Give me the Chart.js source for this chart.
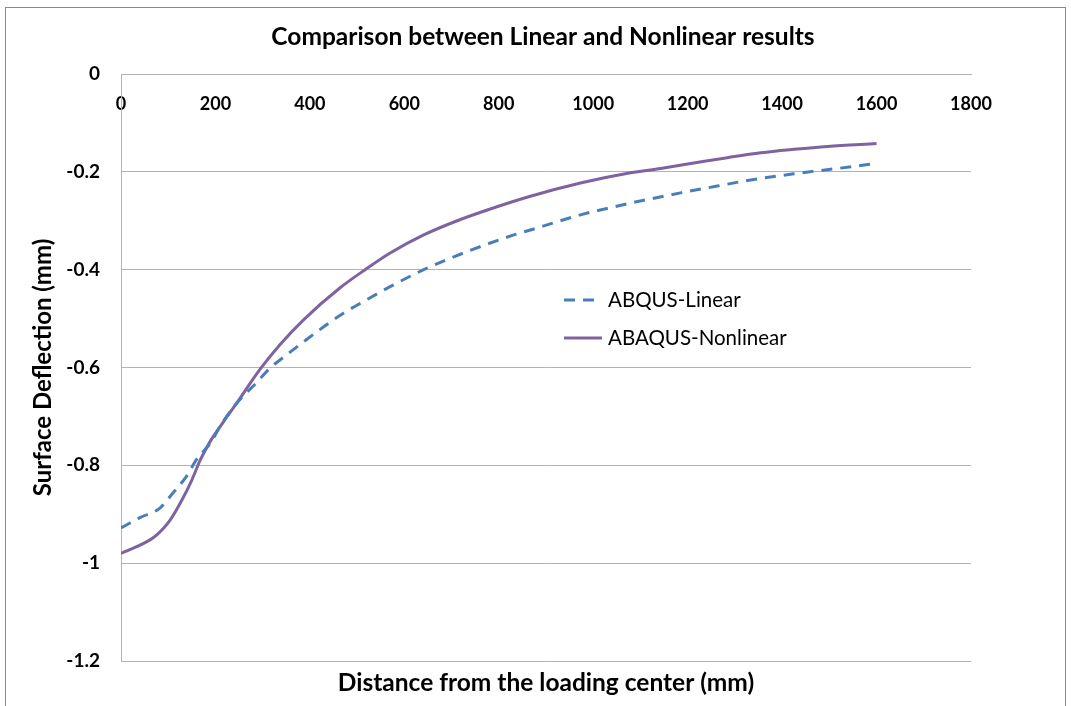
<!DOCTYPE html>
<html>
<head>
<meta charset="utf-8">
<script src="https://cdn.jsdelivr.net/npm/chart.js@4/dist/chart.umd.min.js"></script>
<style>
  html, body { margin: 0; padding: 0; background: #ffffff; }
  #wrap { width: 1071px; height: 706px; position: relative; }
</style>
</head>
<body>
<div id="wrap"><canvas id="c" width="1071" height="706"></canvas></div>
<script>
// ---- Data ----
const chartTitle = 'Comparison between Linear and Nonlinear results';
const xTitle = 'Distance from the loading center (mm)';
const yTitle = 'Surface Deflection (mm)';
const seriesNames = ['ABQUS-Linear', 'ABAQUS-Nonlinear'];

const linearX = [0, 40, 83, 107, 139, 160, 189, 210, 245, 280, 316, 351, 386, 436, 471, 521, 577, 648, 733, 832, 867, 973, 1079, 1185, 1263, 1319, 1425, 1510, 1600];
const linearY = [-0.928, -0.907, -0.887, -0.860, -0.822, -0.788, -0.755, -0.720, -0.673, -0.638, -0.601, -0.574, -0.548, -0.512, -0.489, -0.461, -0.431, -0.397, -0.363, -0.329, -0.319, -0.288, -0.264, -0.243, -0.229, -0.219, -0.204, -0.194, -0.183];

const nonlinearX = [0, 71, 104, 129, 150, 168, 189, 217, 245, 295, 337, 386, 464, 517, 570, 641, 712, 782, 867, 973, 1079, 1143, 1213, 1284, 1355, 1425, 1496, 1600];
const nonlinearY = [-0.980, -0.946, -0.912, -0.871, -0.830, -0.789, -0.751, -0.711, -0.673, -0.603, -0.553, -0.503, -0.437, -0.400, -0.366, -0.329, -0.300, -0.276, -0.250, -0.223, -0.202, -0.193, -0.182, -0.171, -0.161, -0.154, -0.148, -0.142];

const xTicks = [0, 200, 400, 600, 800, 1000, 1200, 1400, 1600, 1800];
const yTicks = [0, -0.2, -0.4, -0.6, -0.8, -1, -1.2];

// ---- Styles ----
const FONT = 'Lato, "Open Sans", "DejaVu Sans", sans-serif';
const colLinear = '#4a7ebb';
const colNonlinear = '#7f63a1';
const gridCol = '#b3b3b3';

const toPts = (xs, ys) => xs.map((x, i) => ({ x: x, y: ys[i] }));

const bgBorder = {
  id: 'bgBorder',
  beforeDraw(chart) {
    const ctx = chart.ctx;
    ctx.save();
    ctx.fillStyle = '#ffffff';
    ctx.fillRect(0, 0, chart.width, chart.height);
    ctx.restore();
  },
  afterDraw(chart) {
    const ctx = chart.ctx;
    ctx.save();
    ctx.strokeStyle = '#8a8a8a';
    ctx.lineWidth = 1;
    ctx.strokeRect(5.5, 7.5, 1060, 720);
    ctx.restore();
  }
};

const inlineLegend = {
  id: 'inlineLegend',
  afterDatasetsDraw(chart) {
    const ctx = chart.ctx;
    const rows = [{ y: 300 }, { y: 338 }];
    ctx.save();
    chart.data.datasets.forEach((ds, i) => {
      const y = rows[i].y;
      ctx.strokeStyle = ds.borderColor;
      ctx.lineWidth = ds.borderWidth;
      ctx.setLineDash(ds.borderDash || []);
      ctx.beginPath();
      ctx.moveTo(564, y);
      ctx.lineTo(602, y);
      ctx.stroke();
      ctx.setLineDash([]);
      ctx.fillStyle = '#000000';
      ctx.font = '20.5px ' + FONT;
      ctx.textBaseline = 'middle';
      ctx.textAlign = 'left';
      ctx.fillText(ds.label, 608, y);
    });
    ctx.restore();
  }
};

new Chart(document.getElementById('c'), {
  type: 'scatter',
  data: {
    datasets: [
      {
        label: seriesNames[0],
        data: toPts(linearX, linearY),
        showLine: true,
        borderColor: colLinear,
        backgroundColor: colLinear,
        borderWidth: 3,
        borderDash: [11, 8],
        pointRadius: 0,
        cubicInterpolationMode: 'monotone',
        fill: false
      },
      {
        label: seriesNames[1],
        data: toPts(nonlinearX, nonlinearY),
        showLine: true,
        borderColor: colNonlinear,
        backgroundColor: colNonlinear,
        borderWidth: 3,
        pointRadius: 0,
        cubicInterpolationMode: 'monotone',
        fill: false
      }
    ]
  },
  options: {
    responsive: false,
    animation: false,
    layout: { padding: { left: 15, right: 0, top: 0, bottom: 0 } },
    plugins: {
      legend: { display: false },
      tooltip: { enabled: false },
      title: {
        display: true,
        text: chartTitle,
        color: '#000000',
        font: { family: FONT, size: 24.5, weight: 'bold', lineHeight: 1.2 },
        padding: { top: 22, bottom: 22.6 }
      }
    },
    scales: {
      x: {
        type: 'linear',
        position: { y: 0 },
        min: 0,
        max: 1800,
        afterBuildTicks(scale) { scale.ticks = xTicks.map(v => ({ value: v })); },
        ticks: {
          color: '#000000',
          font: { family: FONT, size: 18, weight: 'bold' },
          padding: 19,
          maxRotation: 0,
          autoSkip: false,
          callback: (v) => String(v)
        },
        grid: { display: false, drawTicks: false },
        border: { display: true, color: gridCol, width: 1 }
      },
      x2: {
        type: 'linear',
        position: 'bottom',
        min: 0,
        max: 1800,
        ticks: { display: false },
        grid: { display: false, drawTicks: false },
        border: { display: false },
        title: {
          display: true,
          text: xTitle,
          color: '#000000',
          font: { family: FONT, size: 24.5, weight: 'bold', lineHeight: 1.2 },
          padding: { top: 7.3, bottom: 8.3 }
        }
      },
      y: {
        type: 'linear',
        position: 'left',
        min: -1.2,
        max: 0,
        afterBuildTicks(scale) { scale.ticks = yTicks.map(v => ({ value: v })); },
        afterFit(scale) { scale.width = 106; },
        ticks: {
          color: '#000000',
          font: { family: FONT, size: 19, weight: 'bold' },
          padding: 21,
          callback: (v) => String(Math.round(v * 10) / 10)
        },
        grid: { color: gridCol, lineWidth: 1, drawTicks: false },
        border: { display: true, color: gridCol, width: 1 },
        title: {
          display: true,
          text: yTitle,
          color: '#000000',
          font: { family: FONT, size: 24, weight: 'bold', lineHeight: 1.2 },
          padding: { top: 13.6, bottom: 0 }
        }
      },
      yRight: {
        type: 'linear',
        position: 'right',
        min: -1.2,
        max: 0,
        afterFit(scale) { scale.width = 100; },
        ticks: { display: false },
        grid: { display: false, drawTicks: false },
        border: { display: false }
      }
    }
  },
  plugins: [bgBorder, inlineLegend]
});
</script>
</body>
</html>
